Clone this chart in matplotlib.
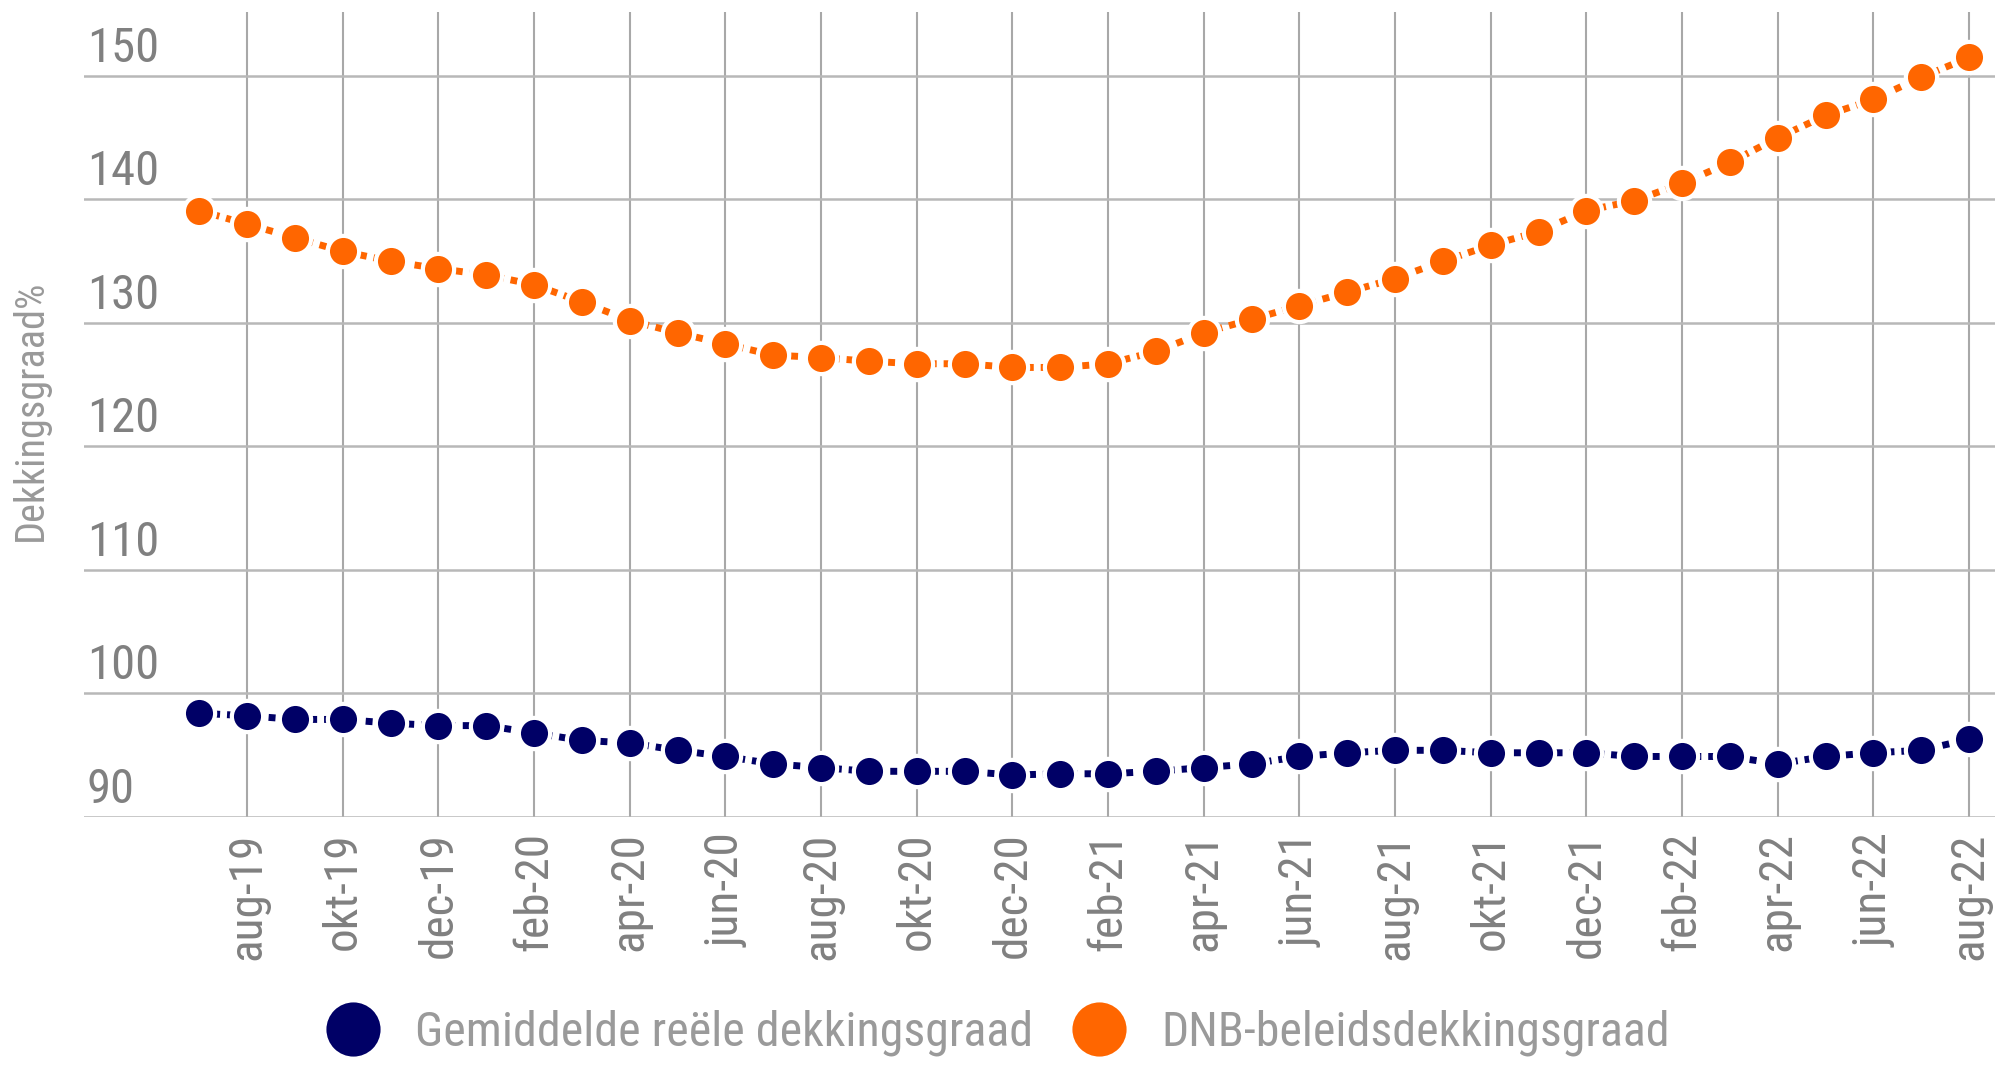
import matplotlib
matplotlib.use("Agg")
import matplotlib.pyplot as plt
from matplotlib import font_manager as fm
from matplotlib.lines import Line2D
from matplotlib.transforms import ScaledTranslation
import os

# ---------------- data ----------------
months = ["jul-19", "aug-19", "sep-19", "okt-19", "nov-19", "dec-19",
          "jan-20", "feb-20", "mrt-20", "apr-20", "mei-20", "jun-20",
          "jul-20", "aug-20", "sep-20", "okt-20", "nov-20", "dec-20",
          "jan-21", "feb-21", "mrt-21", "apr-21", "mei-21", "jun-21",
          "jul-21", "aug-21", "sep-21", "okt-21", "nov-21", "dec-21",
          "jan-22", "feb-22", "mrt-22", "apr-22", "mei-22", "jun-22",
          "jul-22", "aug-22"]

reele = [98.4, 98.2, 97.9, 97.9, 97.6, 97.4,
         97.4, 96.8, 96.2, 96.0, 95.4, 94.9,
         94.3, 94.0, 93.7, 93.7, 93.7, 93.4,
         93.5, 93.5, 93.7, 94.0, 94.3, 94.9,
         95.2, 95.4, 95.4, 95.2, 95.2, 95.2,
         94.9, 94.9, 94.9, 94.3, 94.9, 95.2,
         95.4, 96.3]

dnb = [139.1, 138.0, 136.9, 135.8, 135.0, 134.4,
       133.9, 133.1, 131.7, 130.2, 129.2, 128.3,
       127.4, 127.2, 126.9, 126.7, 126.7, 126.4,
       126.4, 126.7, 127.7, 129.2, 130.3, 131.4,
       132.5, 133.6, 135.0, 136.3, 137.4, 139.1,
       139.9, 141.3, 143.0, 145.0, 146.8, 148.1,
       149.9, 151.5]

series_names = ["Gemiddelde reële dekkingsgraad", "DNB-beleidsdekkingsgraad"]
series_colors = ["#000066", "#FF6600"]
y_ticks = [90, 100, 110, 120, 130, 140, 150]
y_label = "Dekkingsgraad%"

# ---------------- font selection ----------------
prefs = ["LiberationSansNarrow-Regular", "RobotoCondensed-Regular",
         "OpenSans_Condensed-Regular", "OpenSansCondensed", "NotoSans-Condensed.",
         "NotoSans-SemiCondensed.", "DejaVuSansCondensed."]
files = [f.fname for f in fm.fontManager.ttflist]
chosen = None
for p in prefs:
    for f in files:
        if p.lower() in os.path.basename(f).lower():
            chosen = f
            break
    if chosen:
        break
if chosen:
    fp = lambda size: fm.FontProperties(fname=chosen, size=size)
else:
    fp = lambda size: fm.FontProperties(family="DejaVu Sans", stretch="condensed", size=size)

# ---------------- figure ----------------
W, H = 1995, 1065
fig = plt.figure(figsize=(W / 100, H / 100), dpi=100)
ax = fig.add_axes([84 / W, 1 - 817 / H, (W - 84) / W, (817 - 12) / H])

x = list(range(len(months)))
for vals, col in zip([reele, dnb], series_colors):
    ax.plot(x, vals, linestyle=(0, (1, 1)), lw=5, color=col,
            marker="o", ms=22.5, mfc=col, mec="white", mew=3, zorder=3)

ax.set_xlim(-2.41, 37.54)
ax.set_ylim(90, 155.18)

# grid
ax.set_yticks(y_ticks)
tick_idx = list(range(1, len(months), 2))
ax.set_xticks(tick_idx)
ax.set_xticklabels([months[i] for i in tick_idx], rotation=90,
                   fontproperties=fp(34), color="#808080")
ax.grid(axis="y", color="#b8b8b8", lw=1.8, zorder=1)
ax.grid(axis="x", color="#a8a8a8", lw=1.5, zorder=1)
for s in ax.spines.values():
    s.set_visible(False)
ax.tick_params(axis="x", length=0, pad=11)
ax.tick_params(axis="y", length=0, pad=-2)

ax.set_yticklabels([str(v) for v in y_ticks], fontproperties=fp(35), color="#808080")
off = ScaledTranslation(0, 14 / 100, fig.dpi_scale_trans)
for lab in ax.get_yticklabels():
    lab.set_horizontalalignment("left")
    lab.set_verticalalignment("baseline")
    lab.set_transform(lab.get_transform() + off)

fig.text(30 / W, 1 - 410 / H, y_label, rotation=90, ha="center", va="center",
         fontproperties=fp(29), color="#999999")

handles = [Line2D([], [], linestyle="none", marker="o", ms=39, mfc=c, mec=c, mew=0)
           for c in series_colors]
leg = fig.legend(handles, series_names, loc="center", bbox_to_anchor=(0.5, 1 - 1033 / H),
                 ncol=2, frameon=False, prop=fp(34.5), handlelength=1.15,
                 handletextpad=0.72, columnspacing=0.8, borderpad=0, borderaxespad=0)
for t in leg.get_texts():
    t.set_color("#9a9a9a")

fig.savefig("out.png", dpi=100)
